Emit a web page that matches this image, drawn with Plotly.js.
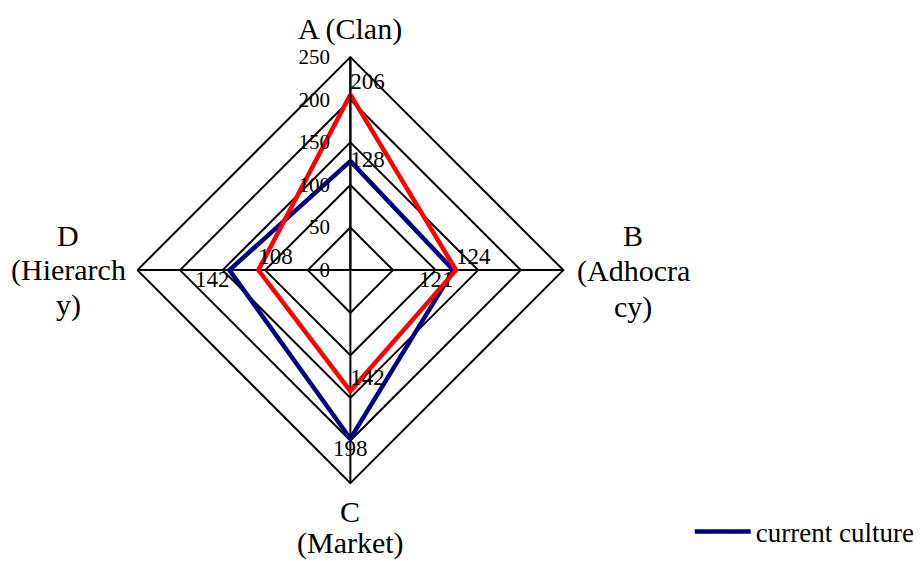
<!DOCTYPE html>
<html>
<head>
<meta charset="utf-8">
<script src="https://cdn.plot.ly/plotly-3.0.1.min.js"></script>
<style>
  html, body { margin: 0; padding: 0; background: #fff; }
  #chart { width: 920px; height: 561px; }
</style>
</head>
<body>
<div id="chart"></div>
<script>
// Competing Values Framework culture profile
const categories = ['A (Clan)', 'B (Adhocracy)', 'C (Market)', 'D (Hierarchy)'];
// Category captions as wrapped on the chart, one entry per line
const categoryLines = [['A (Clan)'], ['B', '(Adhocra', 'cy)'], ['C', '(Market)'], ['D', '(Hierarch', 'y)']];
const currentCulture = [128, 121, 198, 142];
const preferredCulture = [206, 124, 142, 108];
const radialTicks = [0, 50, 100, 150, 200, 250];

const FONT = 'Liberation Serif, Times New Roman, serif';
const domainX = [0.15, 0.615];
const domainY = [0.137, 0.900];

const closeLoop = arr => arr.concat([arr[0]]);

const currentTrace = {
  type: 'scatterpolar',
  name: 'current culture',
  r: closeLoop(currentCulture),
  theta: closeLoop(categories),
  mode: 'lines+text',
  text: currentCulture.map(String).concat(['']),
  textposition: ['middle right', 'bottom left', 'bottom center', 'bottom left', 'middle right'],
  textfont: { family: FONT, size: 23, color: '#000' },
  line: { color: '#000080', width: 4.5 },
  cliponaxis: false,
  hoverinfo: 'r+theta+name'
};

const preferredTrace = {
  type: 'scatterpolar',
  name: 'preferred culture',
  showlegend: false,
  r: closeLoop(preferredCulture),
  theta: closeLoop(categories),
  mode: 'lines+text',
  text: preferredCulture.map(String).concat(['']),
  textposition: ['top right', 'top right', 'top right', 'top right', 'top right'],
  textfont: { family: FONT, size: 23, color: '#000' },
  line: { color: '#FF0000', width: 4.5 },
  cliponaxis: false,
  hoverinfo: 'r+theta+name'
};

// Category captions: each line is its own annotation so the line pitch stays tight.
// Offsets are in pixels from the centre of the polar area.
const cx = (domainX[0] + domainX[1]) / 2;
const cy = (domainY[0] + domainY[1]) / 2;
const captionCentres = [
  { dx: 0, dy: -241, pitch: 35 },   // top
  { dx: 283, dy: -35, pitch: 36 },  // right
  { dx: 0, dy: 241, pitch: 32 },    // bottom
  { dx: -282, dy: -35, pitch: 35 }  // left
];
const annotations = [];
categoryLines.forEach((lines, i) => {
  const c = captionCentres[i];
  lines.forEach((line, j) => {
    annotations.push({
      text: line,
      xref: 'paper', yref: 'paper',
      x: cx, y: cy,
      xanchor: 'center', yanchor: 'middle',
      xshift: c.dx,
      yshift: -(c.dy + j * c.pitch),
      showarrow: false,
      font: { family: FONT, size: 30, color: '#000' }
    });
  });
});

const layout = {
  width: 920,
  height: 561,
  margin: { l: 0, r: 0, t: 0, b: 0 },
  paper_bgcolor: '#fff',
  font: { family: FONT, color: '#000' },
  showlegend: true,
  legend: {
    x: 0.753, xanchor: 'left',
    y: 0.052, yanchor: 'middle',
    itemwidth: 56,
    font: { family: FONT, size: 27, color: '#000' },
    bgcolor: 'rgba(0,0,0,0)'
  },
  polar: {
    domain: { x: domainX, y: domainY },
    bgcolor: '#fff',
    gridshape: 'linear',
    radialaxis: {
      range: [0, 250],
      tickvals: radialTicks,
      ticktext: radialTicks.map(String),
      angle: 90,
      side: 'counterclockwise',
      tickangle: 90,
      ticks: 'outside',
      ticklen: 12,
      tickcolor: 'rgba(0,0,0,0)',
      tickfont: { family: FONT, size: 21, color: '#000' },
      showline: true,
      linecolor: '#000',
      linewidth: 2,
      showgrid: true,
      gridcolor: '#000',
      gridwidth: 2
    },
    angularaxis: {
      type: 'category',
      categoryarray: categories,
      rotation: 90,
      direction: 'clockwise',
      showticklabels: false,
      ticks: '',
      showline: true,
      linecolor: '#000',
      linewidth: 2,
      showgrid: true,
      gridcolor: '#000',
      gridwidth: 2
    }
  },
  annotations: annotations
};

Plotly.newPlot('chart', [currentTrace, preferredTrace], layout, { displayModeBar: false, staticPlot: true });
</script>
</body>
</html>
